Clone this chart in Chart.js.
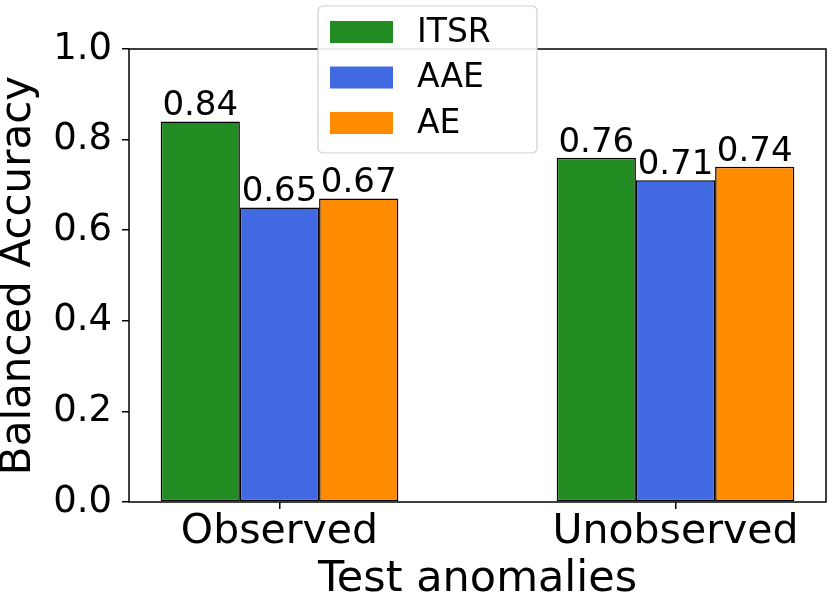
<!DOCTYPE html>
<html lang="en">
<head>
    <meta charset="UTF-8">
    <title>Balanced Accuracy</title>
    <script src="https://cdn.jsdelivr.net/npm/chart.js"></script>
    <style>
        html, body { margin: 0; padding: 0; background: #fff; }
        #wrap { width: 830px; height: 599px; }
    </style>
</head>
<body>
    <div id="wrap"><canvas id="accChart"></canvas></div>

    <script>
        // data
        const categories = ['Observed', 'Unobserved'];
        const seriesNames = ['ITSR', 'AAE', 'AE'];
        const itsrValues = [0.84, 0.76];
        const aaeValues = [0.65, 0.71];
        const aeValues = [0.67, 0.74];
        const yTicks = [0.0, 0.2, 0.4, 0.6, 0.8, 1.0];

        const colors = ['#228B22', '#4169E1', '#FF8C00'];
        const FONT = "'DejaVu Sans', sans-serif";

        function toPoints(vals) {
            return vals.map((v, i) => ({ x: i, y: v }));
        }

        const allValues = [itsrValues, aaeValues, aeValues];
        const datasets = seriesNames.map((name, k) => ({
            label: name,
            data: toPoints(allValues[k]),
            backgroundColor: colors[k],
            borderColor: '#000',
            borderWidth: 1.5,
            borderSkipped: false,
            categoryPercentage: 0.6,
            barPercentage: 1.0
        }));

        // value labels on top of each bar
        const barLabels = {
            id: 'barLabels',
            afterDatasetsDraw(chart) {
                const ctx = chart.ctx;
                ctx.save();
                ctx.font = "34px " + FONT;
                ctx.fillStyle = '#000';
                ctx.textAlign = 'center';
                ctx.textBaseline = 'bottom';
                chart.data.datasets.forEach((ds, i) => {
                    chart.getDatasetMeta(i).data.forEach((bar, j) => {
                        ctx.fillText(ds.data[j].y.toFixed(2), bar.x, bar.y + 2);
                    });
                });
                ctx.restore();
            }
        };

        // full box around the axes + matplotlib style legend
        const frameAndLegend = {
            id: 'frameAndLegend',
            afterDraw(chart) {
                const ctx = chart.ctx;
                const a = chart.chartArea;
                ctx.save();
                ctx.strokeStyle = '#000';
                ctx.lineWidth = 1.5;
                ctx.strokeRect(a.left, a.top, a.right - a.left, a.bottom - a.top);

                // legend
                const lx = 318, ly = 6, lw = 219, lh = 147, r = 5;
                ctx.beginPath();
                ctx.roundRect(lx, ly, lw, lh, r);
                ctx.fillStyle = 'rgba(255,255,255,0.9)';
                ctx.fill();
                ctx.strokeStyle = '#d0d0d0';
                ctx.lineWidth = 1.2;
                ctx.stroke();

                ctx.font = "33px " + FONT;
                ctx.textAlign = 'left';
                ctx.textBaseline = 'middle';
                chart.data.datasets.forEach((ds, i) => {
                    const cy = 32 + i * 45.5;
                    ctx.fillStyle = ds.backgroundColor;
                    ctx.fillRect(330, cy - 11, 63, 22);
                    ctx.fillStyle = '#000';
                    ctx.fillText(ds.label, 417, cy + 1);
                });
                ctx.restore();
            }
        };

        const ctx = document.getElementById('accChart').getContext('2d');
        const chart = new Chart(ctx, {
            type: 'bar',
            data: { datasets: datasets },
            options: {
                responsive: true,
                maintainAspectRatio: false,
                animation: false,
                layout: { padding: { top: 49, right: 4, left: 0, bottom: 0 } },
                plugins: {
                    legend: { display: false },
                    tooltip: { enabled: false }
                },
                scales: {
                    x: {
                        type: 'linear',
                        min: -0.38,
                        max: 1.38,
                        offset: false,
                        afterBuildTicks(scale) {
                            scale.ticks = categories.map((c, i) => ({ value: i }));
                        },
                        afterFit(scale) { scale.height = 97; },
                        border: { display: false },
                        grid: {
                            offset: false,
                            drawOnChartArea: false,
                            drawTicks: true,
                            tickLength: 7,
                            color: '#000',
                            lineWidth: 1.5
                        },
                        ticks: {
                            color: '#000',
                            padding: 2,
                            maxRotation: 0,
                            font: { family: FONT, size: 41, lineHeight: 1.05 },
                            callback: (v) => categories[v]
                        },
                        title: {
                            display: true,
                            text: 'Test anomalies',
                            color: '#000',
                            padding: 0,
                            font: { family: FONT, size: 43, lineHeight: 0.9 }
                        }
                    },
                    y: {
                        min: 0,
                        max: 1,
                        afterBuildTicks(scale) {
                            scale.ticks = yTicks.map(v => ({ value: v }));
                        },
                        afterFit(scale) { scale.width = 129; },
                        border: { display: false },
                        grid: {
                            drawOnChartArea: false,
                            drawTicks: true,
                            tickLength: 7,
                            color: '#000',
                            lineWidth: 1.5
                        },
                        ticks: {
                            color: '#000',
                            padding: 10,
                            font: { family: FONT, size: 37 },
                            callback: (v) => v.toFixed(1)
                        },
                        title: {
                            display: true,
                            text: 'Balanced Accuracy',
                            color: '#000',
                            padding: 0,
                            font: { family: FONT, size: 42, lineHeight: 0.9 }
                        }
                    }
                }
            },
            plugins: [barLabels, frameAndLegend]
        });
    </script>
</body>
</html>
